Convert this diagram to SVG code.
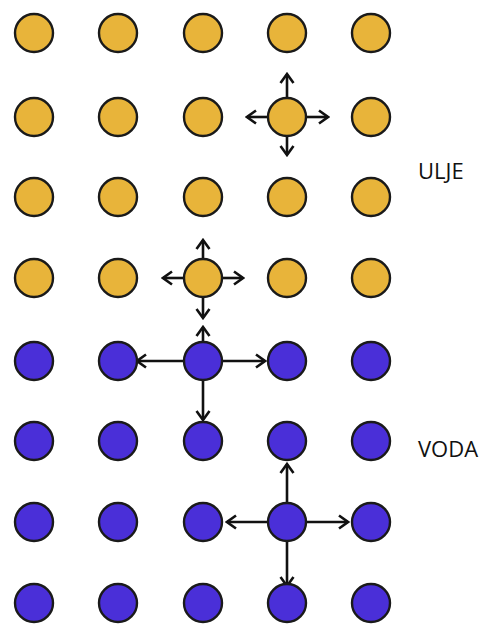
<svg xmlns="http://www.w3.org/2000/svg" width="504" height="628" viewBox="0 0 504 628">
<defs>
<marker id="ah" markerUnits="userSpaceOnUse" markerWidth="16" markerHeight="16" viewBox="0 0 16 16" refX="14" refY="8" orient="auto">
<path d="M5,1.5 L14,8 L5,14.5" fill="none" stroke="#111" stroke-width="2.6"/>
</marker>
<style>
.o{fill:#E8B43A;stroke:#1a1a1a;stroke-width:2.4}
.w{fill:#4A2FD8;stroke:#1a1a1a;stroke-width:2.4}
.a{stroke:#111;stroke-width:2.6;fill:none;marker-end:url(#ah)}
.t{font-family:"Open Sans","Liberation Sans",Arial,sans-serif;font-size:22px;fill:#111}
</style>
</defs>
<rect width="504" height="628" fill="#fff"/>
<g id="connectors">
<line class="a" x1="287" y1="98" x2="287" y2="74"/>
<line class="a" x1="287" y1="136" x2="287" y2="155"/>
<line class="a" x1="268" y1="117" x2="247" y2="117"/>
<line class="a" x1="306" y1="117" x2="328" y2="117"/>
<line class="a" x1="203" y1="259" x2="203" y2="240"/>
<line class="a" x1="203" y1="297" x2="203" y2="318"/>
<line class="a" x1="184" y1="278" x2="163" y2="278"/>
<line class="a" x1="222" y1="278" x2="243" y2="278"/>
<line class="a" x1="203" y1="342" x2="203" y2="327"/>
<line class="a" x1="203" y1="380" x2="203" y2="420"/>
<line class="a" x1="184" y1="361" x2="137" y2="361"/>
<line class="a" x1="222" y1="361" x2="265" y2="361"/>
<line class="a" x1="287" y1="503" x2="287" y2="464"/>
<line class="a" x1="287" y1="541" x2="287" y2="586"/>
<line class="a" x1="268" y1="522" x2="227" y2="522"/>
<line class="a" x1="306" y1="522" x2="348" y2="522"/>
</g>
<g id="oil">
<circle class="o" cx="34" cy="33" r="19"/><circle class="o" cx="118" cy="33" r="19"/><circle class="o" cx="203" cy="33" r="19"/><circle class="o" cx="287" cy="33" r="19"/><circle class="o" cx="371" cy="33" r="19"/>
<circle class="o" cx="34" cy="117" r="19"/><circle class="o" cx="118" cy="117" r="19"/><circle class="o" cx="203" cy="117" r="19"/><circle class="o" cx="287" cy="117" r="19"/><circle class="o" cx="371" cy="117" r="19"/>
<circle class="o" cx="34" cy="197" r="19"/><circle class="o" cx="118" cy="197" r="19"/><circle class="o" cx="203" cy="197" r="19"/><circle class="o" cx="287" cy="197" r="19"/><circle class="o" cx="371" cy="197" r="19"/>
<circle class="o" cx="34" cy="278" r="19"/><circle class="o" cx="118" cy="278" r="19"/><circle class="o" cx="203" cy="278" r="19"/><circle class="o" cx="287" cy="278" r="19"/><circle class="o" cx="371" cy="278" r="19"/>
</g>
<g id="water">
<circle class="w" cx="34" cy="361" r="19"/><circle class="w" cx="118" cy="361" r="19"/><circle class="w" cx="203" cy="361" r="19"/><circle class="w" cx="287" cy="361" r="19"/><circle class="w" cx="371" cy="361" r="19"/>
<circle class="w" cx="34" cy="441" r="19"/><circle class="w" cx="118" cy="441" r="19"/><circle class="w" cx="203" cy="441" r="19"/><circle class="w" cx="287" cy="441" r="19"/><circle class="w" cx="371" cy="441" r="19"/>
<circle class="w" cx="34" cy="522" r="19"/><circle class="w" cx="118" cy="522" r="19"/><circle class="w" cx="203" cy="522" r="19"/><circle class="w" cx="287" cy="522" r="19"/><circle class="w" cx="371" cy="522" r="19"/>
<circle class="w" cx="34" cy="603" r="19"/><circle class="w" cx="118" cy="603" r="19"/><circle class="w" cx="203" cy="603" r="19"/><circle class="w" cx="287" cy="603" r="19"/><circle class="w" cx="371" cy="603" r="19"/>
</g>
<g id="labels">
<text class="t" x="418" y="179">ULJE</text>
<text class="t" x="418" y="457">VODA</text>
</g>
</svg>
